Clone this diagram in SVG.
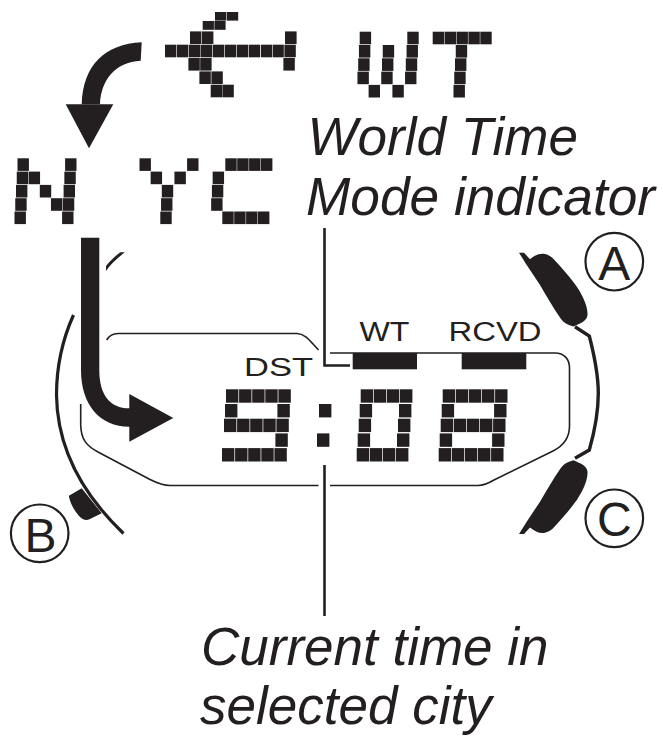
<svg xmlns="http://www.w3.org/2000/svg" width="663" height="746" viewBox="0 0 663 746">
<style>
.k{fill:#231f20}
.l{fill:none;stroke:#231f20;stroke-width:1.6}
.t{fill:none;stroke:#231f20;stroke-width:2.6}
.i{font-family:"Liberation Sans",Arial,sans-serif;font-style:italic;font-size:53px;fill:#231f20}
.s{font-family:"Liberation Sans",Arial,sans-serif;font-size:27px;fill:#231f20}
.b{font-family:"Liberation Sans",Arial,sans-serif;font-size:48px;fill:#231f20;text-anchor:middle}
.r{fill:#fff;stroke:#231f20;stroke-width:2.2}
</style>
<defs>
<rect id="c" class="k" width="11.4" height="12.6"/>
<rect id="d" class="k" width="12.4" height="13.4"/>
<path id="bt" class="k" d="M519,252.700 L524,252.700 L530,259.300 C535,255 540,253 545,254 C549,255 552,257 554,259.500 C565,271 572,280 577,287 C583,296 588,307 587.500,315 C587,321 581,323 573.500,326.500 C568,325 564,323 561,319 C554,309 547,297 540,285 L526.700,265Z"/>
</defs>
<rect width="663" height="746" fill="#fff"/>

<g id="arrow-icon" class="k">
<rect x="215" y="12" width="11.400" height="8.600"/><rect x="227" y="12" width="11.200" height="8.600"/>
<rect x="202.700" y="21" width="11.200" height="8.800"/><rect x="214.400" y="21" width="11.200" height="8.800"/>
<rect x="190" y="31.400" width="11.400" height="12.600"/><rect x="202" y="31.400" width="11.400" height="12.600"/><rect x="285" y="31.400" width="11.600" height="12.600"/>
<rect x="165" y="44.700" width="11.400" height="12.600"/><rect x="177" y="44.700" width="11.400" height="12.600"/><rect x="189" y="44.700" width="11.400" height="12.600"/><rect x="200.800" y="44.700" width="11.400" height="12.600"/><rect x="212.800" y="44.700" width="11.400" height="12.600"/><rect x="224.800" y="44.700" width="11.400" height="12.600"/><rect x="236.800" y="44.700" width="11.400" height="12.600"/><rect x="248.800" y="44.700" width="11.200" height="12.600"/><rect x="260.800" y="44.700" width="11.200" height="12.600"/><rect x="272.600" y="44.700" width="11.200" height="12.600"/><rect x="284.400" y="44.700" width="11.400" height="12.600"/>
<rect x="188.400" y="58" width="11.400" height="12.600"/><rect x="200.200" y="58" width="11.400" height="12.600"/><rect x="283.400" y="58" width="11.400" height="12.600"/>
<rect x="199.400" y="71.400" width="11.400" height="12.600"/><rect x="211.400" y="71.400" width="11.400" height="12.600"/>
<rect x="210.700" y="84.700" width="11.400" height="12.600"/><rect x="222.400" y="84.700" width="11.400" height="12.600"/>
</g>

<g id="label-WT-large">
<g transform="translate(359.700,31.700)">
<use href="#c"/><use href="#c" x="47.600"/>
<use href="#c" x="-0.750" y="13.300"/><use href="#c" x="23.050" y="13.300"/><use href="#c" x="46.850" y="13.300"/>
<use href="#c" x="-1.500" y="26.600"/><use href="#c" x="22.300" y="26.600"/><use href="#c" x="46.100" y="26.600"/>
<use href="#c" x="-2.250" y="39.900"/><use href="#c" x="21.550" y="39.900"/><use href="#c" x="45.350" y="39.900"/>
<use href="#c" x="8.900" y="53.200"/><use href="#c" x="32.700" y="53.200"/>
</g>
<g transform="translate(432.700,31.700)">
<use href="#c"/><use href="#c" x="11.900"/><use href="#c" x="23.800"/><use href="#c" x="35.700"/><use href="#c" x="47.600"/>
<use href="#c" x="23.050" y="13.300"/><use href="#c" x="22.300" y="26.600"/><use href="#c" x="21.550" y="39.900"/><use href="#c" x="20.800" y="53.200"/>
</g>
</g>

<g id="label-NYC">
<g transform="translate(17.500,158.300)">
<use href="#c"/><use href="#c" x="47.600"/>
<use href="#c" x="-0.750" y="13.300"/><use href="#c" x="11.150" y="13.300"/><use href="#c" x="46.850" y="13.300"/>
<use href="#c" x="-1.500" y="26.600"/><use href="#c" x="22.300" y="26.600"/><use href="#c" x="46.100" y="26.600"/>
<use href="#c" x="-2.250" y="39.900"/><use href="#c" x="33.450" y="39.900"/><use href="#c" x="45.350" y="39.900"/>
<use href="#c" x="-3" y="53.200"/><use href="#c" x="44.600" y="53.200"/>
</g>
<g transform="translate(139.500,158.300)">
<use href="#c"/><use href="#c" x="47.600"/>
<use href="#c" x="11.150" y="13.300"/><use href="#c" x="34.950" y="13.300"/>
<use href="#c" x="22.300" y="26.600"/><use href="#c" x="21.550" y="39.900"/><use href="#c" x="20.800" y="53.200"/>
</g>
<g transform="translate(213.400,158.300)">
<use href="#c" x="11.900"/><use href="#c" x="23.800"/><use href="#c" x="35.700"/><use href="#c" x="47.600"/>
<use href="#c" x="-0.750" y="13.300"/><use href="#c" x="-1.500" y="26.600"/><use href="#c" x="-2.250" y="39.900"/>
<use href="#c" x="8.900" y="53.200"/><use href="#c" x="20.800" y="53.200"/><use href="#c" x="32.700" y="53.200"/><use href="#c" x="44.600" y="53.200"/>
</g>
</g>

<g id="watch-case">
<path class="k" d="M106,271 C110,265 117,258 125,252.300 L120.500,252.300 C115,256 110,261 106,266Z"/>
<path class="t" style="stroke-width:3.200" d="M73.500,315 C60,345 56.500,370 56.500,395 C57,440 75,487 123.500,533.500"/>
<path class="t" style="stroke-width:3.400" d="M575,326.700 L589.300,336 C595,358 598.300,378 598.300,393.300 C598.300,410 595,430 589.300,450 L575,458.300"/>
</g>
<g id="button-A"><use href="#bt"/></g>
<g id="button-C"><use href="#bt" transform="translate(0,786.700) scale(1,-1)"/></g>
<g id="button-B"><path class="k" d="M69,495.700 L81.700,488.300 L101.700,513.300 L90,519 C86,521 83,520 79,516 C74,510 71,505 69,497Z"/></g>

<g id="display-outline">
<path class="l" d="M106.700,340 C109,336 113,333.500 118,333.500 L297,333.500 C305,333.500 310,341 318.500,350"/>
<path class="l" d="M330,353 L555,353 C564,353 569.500,359 569.500,368 L569.500,426 C569.500,438 563,446 553,451 L494,480 C488,483.500 484,485.500 478,485.500 L330,485.500"/>
<path class="l" d="M318.500,485.500 L170,485.500 C163,485.500 157,483 150,479.500 L98,452 C87,446 81,440 80.700,425 L80.700,404"/>
<rect class="k" x="352.700" y="353" width="64.300" height="16.300"/>
<rect class="k" x="461.700" y="353" width="64.600" height="16.300"/>
</g>

<g id="display-time">
<g transform="translate(226,389.300)">
<use href="#d"/><use href="#d" x="13.100"/><use href="#d" x="26.200"/><use href="#d" x="39.300"/><use href="#d" x="52.400"/>
<use href="#d" x="-1" y="14.700"/><use href="#d" x="51.400" y="14.700"/>
<use href="#d" x="-2" y="29.400"/><use href="#d" x="11.100" y="29.400"/><use href="#d" x="24.200" y="29.400"/><use href="#d" x="37.300" y="29.400"/><use href="#d" x="50.400" y="29.400"/>
<use href="#d" x="49.400" y="44.100"/>
<use href="#d" x="-4" y="58.800"/><use href="#d" x="9.100" y="58.800"/><use href="#d" x="22.200" y="58.800"/><use href="#d" x="35.300" y="58.800"/><use href="#d" x="48.400" y="58.800"/>
</g>
<g transform="translate(320,389.300)">
<use href="#d" x="-1" y="14.700"/><use href="#d" x="-3" y="44.100"/>
</g>
<g transform="translate(360.700,389.300)">
<use href="#d"/><use href="#d" x="13.100"/><use href="#d" x="26.200"/><use href="#d" x="39.300"/>
<use href="#d" x="-1" y="14.700"/><use href="#d" x="38.300" y="14.700"/>
<use href="#d" x="-2" y="29.400"/><use href="#d" x="37.300" y="29.400"/>
<use href="#d" x="-3" y="44.100"/><use href="#d" x="36.300" y="44.100"/>
<use href="#d" x="-4" y="58.800"/><use href="#d" x="9.100" y="58.800"/><use href="#d" x="22.200" y="58.800"/><use href="#d" x="35.300" y="58.800"/>
</g>
<g transform="translate(442.700,389.300)">
<use href="#d"/><use href="#d" x="13.100"/><use href="#d" x="26.200"/><use href="#d" x="39.300"/><use href="#d" x="52.400"/>
<use href="#d" x="-1" y="14.700"/><use href="#d" x="51.400" y="14.700"/>
<use href="#d" x="-2" y="29.400"/><use href="#d" x="11.100" y="29.400"/><use href="#d" x="24.200" y="29.400"/><use href="#d" x="37.300" y="29.400"/><use href="#d" x="50.400" y="29.400"/>
<use href="#d" x="-3" y="44.100"/><use href="#d" x="49.400" y="44.100"/>
<use href="#d" x="-4" y="58.800"/><use href="#d" x="9.100" y="58.800"/><use href="#d" x="22.200" y="58.800"/><use href="#d" x="35.300" y="58.800"/><use href="#d" x="48.400" y="58.800"/>
</g>
</g>

<g id="connectors">
<path class="k" d="M141.700,42.300 C105,44 83,65 81.700,104.300 L100,104.300 C101,80 115,62 140.700,60.700Z"/>
<path class="k" d="M65.700,104.300 L113.300,104.300 L89,148.300Z"/>
<path class="k" d="M81,237.700 L99.300,237.700 L99.300,370 C99.300,395 110,408.300 129.300,408.300 L129.300,394 L173.300,418 L129.300,441.700 L129.300,426.700 C100,426.700 81,405 81,370Z"/>
<path class="t" d="M324.500,228 L324.500,365.500 L350,365.500"/>
<path class="t" d="M324.500,465 L324.500,616"/>
</g>

<g id="labels">
<text class="i" x="307.500" y="155">World Time</text>
<text class="i" x="306" y="214.500" textLength="349" lengthAdjust="spacingAndGlyphs">Mode indicator</text>
<text class="i" x="201" y="665">Current time in</text>
<text class="i" x="200" y="724">selected city</text>
<text class="s" x="244" y="376" textLength="69" lengthAdjust="spacingAndGlyphs" style="font-size:25px">DST</text>
<text class="s" x="359.500" y="341" textLength="50" lengthAdjust="spacingAndGlyphs">WT</text>
<text class="s" x="448.500" y="341" textLength="93" lengthAdjust="spacingAndGlyphs">RCVD</text>
</g>

<g id="key-A"><circle class="r" cx="614.300" cy="261.700" r="28.800"/><text class="b" x="614.300" y="279.500">A</text></g>
<g id="key-B"><circle class="r" cx="39.700" cy="533.300" r="28.800"/><text class="b" x="40.500" y="551.500">B</text></g>
<g id="key-C"><circle class="r" cx="614.300" cy="518.300" r="28.800"/><text class="b" x="614.300" y="536">C</text></g>
</svg>
